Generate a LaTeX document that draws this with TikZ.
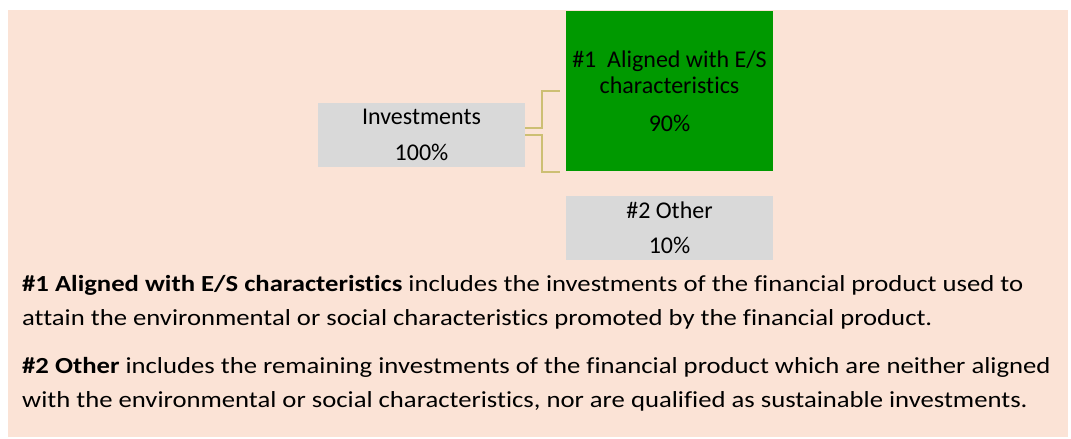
\documentclass[tikz,border=0pt]{standalone}
\usepackage{fontspec}
\setmainfont{Carlito}[Ligatures=NoCommon]
\newfontfamily\notefont{Carlito}[FakeStretch=1.16, Ligatures=NoCommon]
\usetikzlibrary{positioning}

\definecolor{peach}{HTML}{FBE3D6}
\definecolor{boxgrey}{HTML}{D9D9D9}
\definecolor{boxgreen}{HTML}{009900}
\definecolor{linkline}{HTML}{CDBF73}

\begin{document}
\begin{tikzpicture}[
    x=1pt, y=-1pt,
    share/.style={rectangle, fill=boxgrey, minimum width=207pt, minimum height=64pt, inner sep=0pt, align=center, font=\fontsize{24}{36}\selectfont},
    aligned/.style={rectangle, fill=boxgreen, minimum width=207pt, minimum height=160pt, inner sep=0pt, align=center, font=\fontsize{24}{26.7}\selectfont},
    branch/.style={draw=linkline, line width=1.5pt},
    note/.style={anchor=base west, inner sep=0pt, align=left, font=\notefont\fontsize{23}{33.5}\selectfont}
]

% Fond
\useasboundingbox (0,0) rectangle (1071,439);
\fill[peach] (8,10) rectangle (1068,437);

% Répartition des investissements
\node[share] (inv) at (421.5,135) {Investments\\100\%};
\node[aligned] (es) at (669.5,91) {\#1\ \ Aligned with E/S\\characteristics\\[10.6pt]90\%};
\node[share, font=\fontsize{24}{36.7}\selectfont] (other) at (669.5,228) {\#2 Other\\[-1.5pt]10\%};

% Liaisons
\draw[branch] ([yshift=7pt]inv.east) -- ++(17,0) |- ([xshift=-6pt]es.west);
\draw[branch] (inv.east) -- ++(17,0) |- ([xshift=-6pt,yshift=-1pt]es.south west);

% Légende
\node[note] (legend) at (22,407) {\textbf{\#1 Aligned with E/S characteristics} includes the investments of the financial product used to\\
attain the environmental or social characteristics promoted by the financial product.\\[14.8pt]
\textbf{\#2 Other} includes the remaining investments of the financial product which are neither aligned\\
with the environmental or social characteristics, nor are qualified as sustainable investments.};

\end{tikzpicture}
\end{document}
